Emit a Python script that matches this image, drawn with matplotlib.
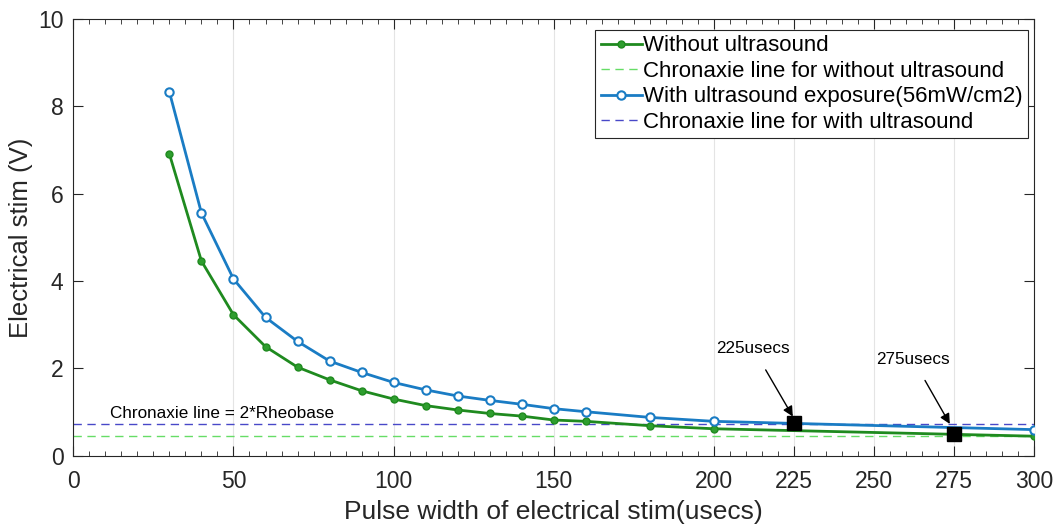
import numpy as np
import matplotlib.pyplot as plt

plt.rcParams['font.family'] = ['Liberation Sans', 'DejaVu Sans']

# pulse width (usecs) and threshold voltage (V)
pw = [30, 40, 50, 60, 70, 80, 90, 100, 110, 120, 130, 140, 150, 160, 180, 200, 300]
v_sem = [6.91, 4.46, 3.23, 2.50, 2.03, 1.74, 1.49, 1.30, 1.15, 1.05, 0.97, 0.91, 0.82, 0.79, 0.69, 0.62, 0.45]
v_com = [8.33, 5.56, 4.05, 3.17, 2.62, 2.17, 1.91, 1.68, 1.51, 1.37, 1.27, 1.18, 1.08, 1.01, 0.88, 0.79, 0.60]

cron_sem = 0.45
cron_com = 0.73

# chronaxie points
cx = [225, 275]
cy = [0.75, 0.49]
cx_labels = ["225usecs", "275usecs"]

xticks = [0, 50, 100, 150, 200, 225, 250, 275, 300]

fig = plt.figure(figsize=(10.62, 5.27), dpi=100)
ax = fig.add_axes([0.069, 0.135, 0.905, 0.829])

ax.plot(pw, v_sem, "-o", color="#1f8a1f", lw=2, ms=5, mfc="#2e9e2e", mec="#1f8a1f",
        label="Without ultrasound", zorder=3)
ax.plot([0, 300], [cron_sem, cron_sem], "--", color="#66dd66", lw=1, dashes=(6, 4),
        label="Chronaxie line for without ultrasound")
ax.plot(pw, v_com, "-o", color="#1a7cc4", lw=2, ms=6, mfc="white", mec="#1a7cc4", mew=1.5,
        label="With ultrasound exposure(56mW/cm2)", zorder=3)
ax.plot([0, 300], [cron_com, cron_com], "--", color="#4848c8", lw=1, dashes=(6, 4),
        label="Chronaxie line for with ultrasound")

ax.plot(cx, cy, "s", color="black", ms=10, zorder=4)

ax.annotate(cx_labels[0], xy=(224.6, 0.90), xytext=(212.3, 2.45),
            ha="center", va="center", fontsize=12.3,
            arrowprops=dict(arrowstyle="-|>", color="black", lw=1, mutation_scale=15,
                            shrinkA=9, shrinkB=0))
ax.annotate(cx_labels[1], xy=(273.6, 0.73), xytext=(262.1, 2.21),
            ha="center", va="center", fontsize=12.3,
            arrowprops=dict(arrowstyle="-|>", color="black", lw=1, mutation_scale=15,
                            shrinkA=9, shrinkB=0))

ax.text(11.5, 0.98, "Chronaxie line = 2*Rheobase", fontsize=12.3, va="center")

ax.set_xlim(0, 300)
ax.set_ylim(0, 10)
ax.set_xticks(xticks)
ax.set_xticks(np.arange(0, 301, 5), minor=True)
ax.set_yticks([0, 2, 4, 6, 8, 10])
ax.tick_params(direction="in", top=True, right=True, labelsize=16.5, colors="#262626",
               length=7, pad=7)
ax.tick_params(axis="x", pad=10)
ax.tick_params(which="minor", direction="in", top=True, right=False, length=3.6, color="#262626")
ax.xaxis.grid(True, color="#e4e4e4", lw=0.8)
ax.set_axisbelow(True)
for s in ax.spines.values():
    s.set_color("#262626")
    s.set_linewidth(0.8)

ax.set_xlabel("Pulse width of electrical stim(usecs)", fontsize=19, color="#262626", labelpad=5)
ax.set_ylabel("Electrical stim (V)", fontsize=18.5, color="#262626", labelpad=4)

leg = ax.legend(loc="upper right", bbox_to_anchor=(0.9935, 0.975), fontsize=16,
                fancybox=False, framealpha=1, edgecolor="#262626", borderpad=0.25,
                handlelength=1.85, handletextpad=0.05, labelspacing=0.2, borderaxespad=0)
leg.get_frame().set_linewidth(0.8)

fig.savefig("out.png", dpi=100)
